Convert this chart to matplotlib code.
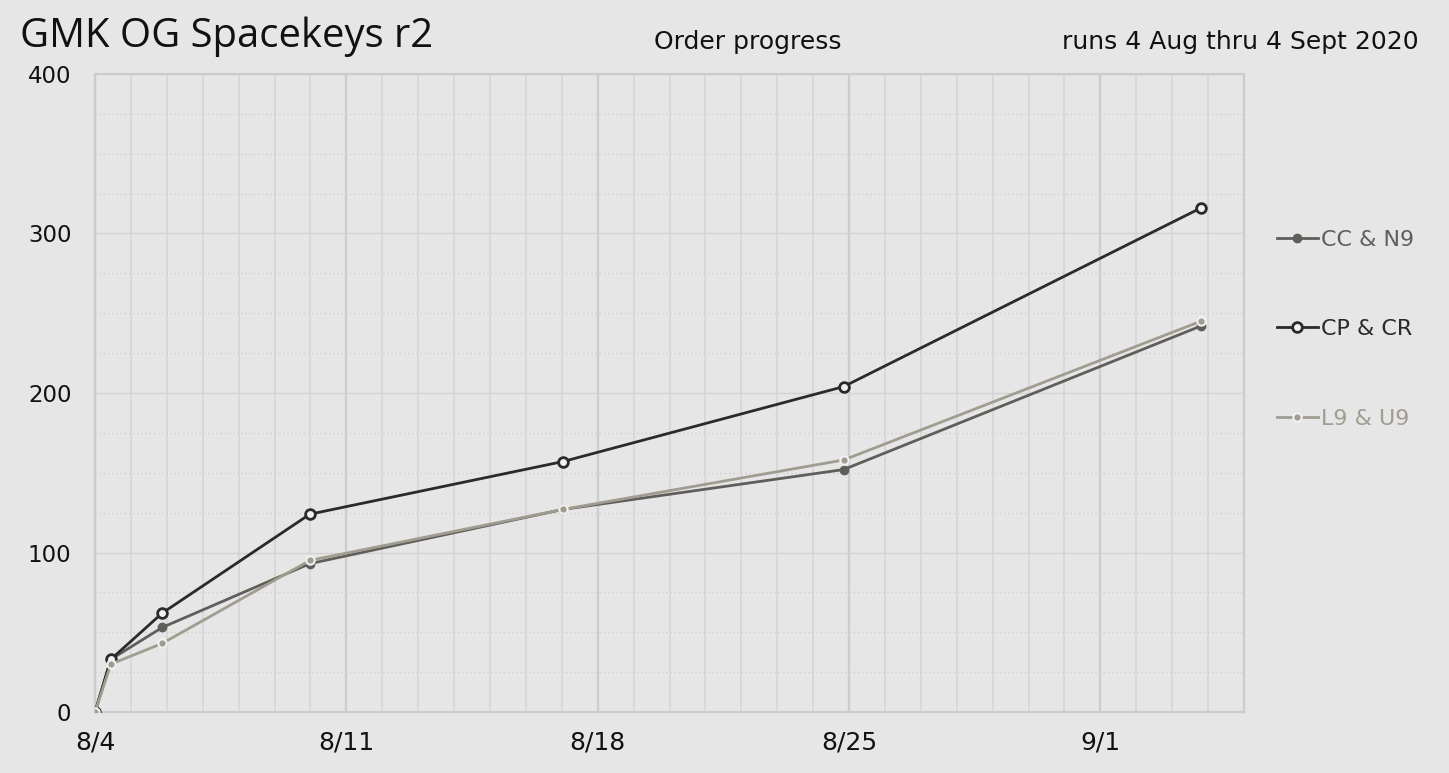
"""
GMK OG Spacekeys r2 - order progress chart
"""

import numpy as np
import matplotlib.pyplot as plt
from matplotlib.ticker import MultipleLocator, FixedLocator


# ── data ───────────────────────────────────────────────────────────────────────
# days since 8/4 (fractional, points were logged at odd hours)
days = [0.0, 0.44, 1.87, 5.98, 13.03, 20.85, 30.8]

cc_n9 = [0, 33, 53, 93, 127, 152, 242]
cp_cr = [0, 33, 62, 124, 157, 204, 316]
l9_u9 = [0, 30, 43, 95, 127, 158, 245]

series_names = ["CC & N9", "CP & CR", "L9 & U9"]
tick_days = [0, 7, 14, 21, 28]
tick_labels = ["8/4", "8/11", "8/18", "8/25", "9/1"]

BG = "#e6e6e6"
TITLE_FONT = ["Open Sans", "DejaVu Sans"]
BODY_FONT = ["DejaVu Sans"]

plt.rcParams["font.family"] = BODY_FONT

# ── figure ─────────────────────────────────────────────────────────────────────
fig = plt.figure(figsize=(14.49, 7.73), dpi=100, facecolor=BG)
ax = fig.add_axes([0.0656, 0.0789, 0.7929, 0.8254], facecolor=BG)

# grid: one line per day, heavier every week; dotted every 25, solid every 100
ax.set_xlim(0, 32)
ax.set_ylim(0, 400)
ax.xaxis.set_major_locator(FixedLocator(tick_days))
ax.xaxis.set_minor_locator(MultipleLocator(1))
ax.yaxis.set_major_locator(MultipleLocator(100))
ax.yaxis.set_minor_locator(MultipleLocator(25))
ax.grid(which="major", axis="x", color="#cdcdcd", linewidth=1.7)
ax.grid(which="minor", axis="x", color="#d4d4d4", linewidth=1.1)
ax.grid(which="major", axis="y", color="#d2d2d2", linewidth=1.0)
ax.grid(which="minor", axis="y", color="#cfcfcf", linewidth=1.0, linestyle=(0, (1, 2)))
ax.set_axisbelow(True)

for sp in ax.spines.values():
    sp.set_color("#cccccc")
    sp.set_linewidth(1.6)

ax.set_xticklabels(tick_labels)
ax.tick_params(which="both", length=0)
ax.tick_params(axis="x", labelsize=18, pad=13, colors="#111111")
ax.tick_params(axis="y", labelsize=16.5, pad=17, colors="#111111")

# ── lines ──────────────────────────────────────────────────────────────────────
ax.plot(days, cc_n9, color="#5f5e5a", linewidth=2.0, marker="o",
        markersize=6, markerfacecolor="#5f5e5a", markeredgecolor="#5f5e5a",
        label=series_names[0], zorder=3)
ax.plot(days, cp_cr, color="#2a2a2a", linewidth=2.0, marker="o",
        markersize=7, markerfacecolor="#f2f2f2", markeredgecolor="#2a2a2a",
        markeredgewidth=2.0, label=series_names[1], zorder=4)
ax.plot(days, l9_u9, color="#a09d90", linewidth=2.0, marker="o",
        markersize=6, markerfacecolor="#a09d90", markeredgecolor="#f2f2f2",
        markeredgewidth=1.5, label=series_names[2], zorder=5)

leg = ax.legend(loc="upper left", bbox_to_anchor=(1.0287, 0.756),
                frameon=False, fontsize=16, handlelength=1.85,
                handletextpad=0.15, labelspacing=3.13, borderaxespad=0,
                borderpad=0)
for txt, line in zip(leg.get_texts(), leg.get_lines()):
    txt.set_color(line.get_color())

# ── header text ────────────────────────────────────────────────────────────────
fig.text(0.014, 0.953, "GMK OG Spacekeys r2", fontsize=28.8, color="#111111",
         ha="left", va="center", family=TITLE_FONT)
fig.text(0.516, 0.946, "Order progress", fontsize=18, color="#111111",
         ha="center", va="center")
fig.text(0.979, 0.946, "runs 4 Aug thru 4 Sept 2020", fontsize=18,
         color="#111111", ha="right", va="center")

fig.savefig("out.png", dpi=100, facecolor=BG)
